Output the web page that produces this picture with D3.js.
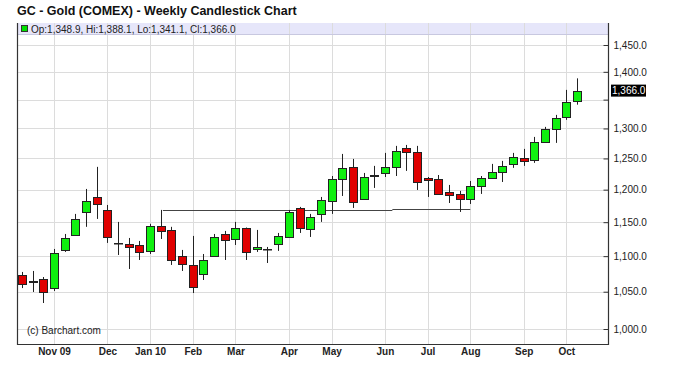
<!DOCTYPE html>
<html>
<head>
<meta charset="utf-8">
<script src="https://cdn.jsdelivr.net/npm/d3@7"></script>
<style>
  body { margin: 0; background: #fff; }
  svg { display: block; font-family: "Liberation Sans", Arial, sans-serif; }
</style>
</head>
<body>
<svg width="675" height="378"></svg>
<script>
// weekly bars, week of Oct 12 2009 .. week of Oct 11 2010
const opens = [1073.2, 1065.2, 1067.6, 1055.0, 1109.0, 1131.0, 1165.5, 1188.6, 1168.6, 1119.6,
  1117.7, 1116.2, 1107.6, 1144.5, 1138.4, 1100.2, 1087.4, 1074.6, 1100.2, 1132.4,
  1125.0, 1141.4, 1110.4, 1110.8, 1117.7, 1128.0, 1171.6, 1139.9, 1162.5, 1182.3,
  1216.9, 1236.3, 1185.5, 1222.7, 1226.5, 1236.3, 1267.3, 1260.7, 1218.5, 1216.9,
  1196.4, 1193.3, 1185.5, 1205.8, 1218.5, 1228.2, 1241.1, 1250.9, 1247.6, 1277.3,
  1299.3, 1319.8, 1348.9];
const highs = [1077.5, 1078.9, 1070.4, 1110.4, 1132.4, 1162.5, 1201.1, 1236.3, 1176.2, 1150.4,
  1126.5, 1122.1, 1147.5, 1168.6, 1143.0, 1109.0, 1129.5, 1103.1, 1132.4, 1136.9,
  1150.4, 1142.0, 1138.4, 1113.3, 1133.9, 1168.6, 1173.2, 1162.5, 1188.6, 1221.6,
  1257.4, 1249.2, 1226.5, 1237.9, 1259.1, 1270.7, 1272.3, 1270.7, 1220.0, 1223.2,
  1207.4, 1198.0, 1213.7, 1221.6, 1241.1, 1246.0, 1259.1, 1265.7, 1285.7, 1302.7,
  1323.3, 1367.3, 1388.1];
const lows = [1055.0, 1049.6, 1034.6, 1051.0, 1106.1, 1129.5, 1143.0, 1154.9, 1119.2, 1101.7,
  1081.7, 1094.5, 1103.1, 1125.0, 1087.4, 1078.9, 1048.2, 1066.2, 1098.8, 1094.5,
  1116.2, 1094.5, 1106.1, 1090.2, 1107.6, 1126.5, 1133.9, 1128.0, 1150.4, 1162.5,
  1190.1, 1171.6, 1183.9, 1202.7, 1220.0, 1221.6, 1229.8, 1199.5, 1188.6, 1191.7,
  1179.2, 1165.5, 1177.7, 1193.3, 1216.9, 1212.1, 1234.7, 1237.9, 1242.8, 1275.7,
  1275.7, 1314.7, 1341.1];
const closes = [1060.6, 1064.4, 1049.6, 1104.6, 1126.5, 1154.9, 1182.3, 1177.7, 1128.0, 1119.2,
  1113.3, 1106.1, 1144.5, 1136.9, 1094.5, 1088.8, 1056.4, 1094.5, 1128.0, 1123.6,
  1141.4, 1106.1, 1113.3, 1110.4, 1129.5, 1165.5, 1141.4, 1157.9, 1183.9, 1216.9,
  1234.7, 1180.8, 1220.0, 1223.7, 1236.3, 1262.4, 1260.7, 1212.1, 1215.3, 1193.3,
  1191.7, 1185.5, 1205.8, 1218.5, 1228.2, 1237.9, 1252.5, 1246.0, 1277.3, 1299.3,
  1318.1, 1345.9, 1366.0];

// first bar of each month
const monthLabels = ['Nov 09', 'Dec', 'Jan 10', 'Feb', 'Mar', 'Apr', 'May', 'Jun', 'Jul', 'Aug', 'Sep', 'Oct'];
const monthBars = [3, 8, 12, 16, 20, 25, 29, 34, 38, 42, 47, 51];

const priceTicks = [1000, 1050, 1100, 1150, 1200, 1250, 1300, 1350, 1400, 1450];

// drawn support line: start bar, end bar, level
const lineStart = [13.2, 34.7];
const lineEnd = [34.7, 42.0];
const lineLevel = [1168.0, 1170.5];

const svg = d3.select('svg');
const W = 675, H = 378;
const plot = { left: 17, right: 608, top: 23, bottom: 344 };

const x = d3.scaleLinear().domain([0, opens.length - 1]).range([22, 577]);
const y = d3.scaleLog().domain([1000, 1450]).range([329, 45]);
const fmt = d3.format(',.1f');

svg.append('rect').attr('width', W).attr('height', H).attr('fill', '#fff');

// title
svg.append('text')
  .attr('x', 17).attr('y', 15)
  .attr('font-size', 12.5).attr('font-weight', 'bold').attr('fill', '#111')
  .text('GC - Gold (COMEX) - Weekly Candlestick Chart');

// legend band
svg.append('rect')
  .attr('x', plot.left).attr('y', plot.top)
  .attr('width', plot.right - plot.left).attr('height', 11)
  .attr('fill', '#e6e6fa');

// grid
const grid = svg.append('g').attr('stroke', '#dcdcdc').attr('stroke-width', 1);
grid.selectAll('.hg').data(priceTicks).enter().append('line')
  .attr('x1', plot.left).attr('x2', plot.right)
  .attr('y1', d => Math.round(y(d)) + 0.5).attr('y2', d => Math.round(y(d)) + 0.5);
grid.selectAll('.vg').data(monthBars).enter().append('line')
  .attr('x1', d => Math.round(x(d)) + 0.5).attr('x2', d => Math.round(x(d)) + 0.5)
  .attr('y1', plot.top).attr('y2', plot.bottom);

svg.append('line')
  .attr('x1', plot.left).attr('x2', plot.right)
  .attr('y1', plot.top + 11.5).attr('y2', plot.top + 11.5)
  .attr('stroke', '#c8c8e0');

// legend content
svg.append('rect')
  .attr('x', 21.5).attr('y', 25.5).attr('width', 6).attr('height', 6)
  .attr('fill', '#00e000').attr('stroke', '#333');
svg.append('text')
  .attr('x', 31).attr('y', 32.5)
  .attr('font-size', 10).attr('fill', '#222')
  .text(`Op:${fmt(opens[opens.length - 1])}, Hi:${fmt(highs[highs.length - 1])}, Lo:${fmt(lows[lows.length - 1])}, Cl:${fmt(closes[closes.length - 1])}`);

// copyright
svg.append('text')
  .attr('x', 27).attr('y', 334)
  .attr('font-size', 10).attr('fill', '#222')
  .text('(c) Barchart.com');

// support line
svg.append('g').selectAll('line').data(lineLevel).enter().append('line')
  .attr('x1', (d, i) => x(lineStart[i])).attr('x2', (d, i) => x(lineEnd[i]))
  .attr('y1', d => Math.round(y(d)) + 0.5).attr('y2', d => Math.round(y(d)) + 0.5)
  .attr('stroke', '#444').attr('stroke-width', 1.2);

// candles
const bars = d3.range(opens.length);
const candles = svg.append('g');
candles.selectAll('.wick').data(bars).enter().append('line')
  .attr('x1', i => Math.round(x(i)) + 0.5).attr('x2', i => Math.round(x(i)) + 0.5)
  .attr('y1', i => y(highs[i])).attr('y2', i => y(lows[i]))
  .attr('stroke', '#222').attr('stroke-width', 1);
candles.selectAll('.body').data(bars).enter().append('rect')
  .attr('x', i => Math.round(x(i)) - 3.5)
  .attr('width', 8)
  .attr('y', i => Math.round(y(Math.max(opens[i], closes[i]))) + 0.5)
  .attr('height', i => Math.max(0.5, Math.round(Math.abs(y(opens[i]) - y(closes[i])))))
  .attr('fill', i => closes[i] >= opens[i] ? '#10f010' : '#e00000')
  .attr('stroke', '#222').attr('stroke-width', 1);

// frame
svg.append('path')
  .attr('d', `M${plot.left + 0.5},${plot.top}V${plot.bottom + 0.5}H${plot.right + 0.5}V${plot.top}`)
  .attr('fill', 'none').attr('stroke', '#333').attr('stroke-width', 1.2);

// right price axis
const yAxis = d3.axisRight(y)
  .tickValues(priceTicks)
  .tickFormat(fmt)
  .tickSizeInner(-5).tickSizeOuter(0).tickPadding(5);
const yG = svg.append('g')
  .attr('transform', `translate(${plot.right + 0.5},0)`)
  .call(yAxis);
yG.select('.domain').remove();
yG.selectAll('.tick line').attr('stroke', '#333');
yG.selectAll('.tick text')
  .attr('font-size', 10).attr('fill', '#222')
  .attr('font-family', '"Liberation Sans", Arial, sans-serif')
  .style('display', d => d === 1350 ? 'none' : null);

// last price marker
const lastY = y(closes[closes.length - 1]);
svg.append('rect')
  .attr('x', 611).attr('y', lastY - 6).attr('width', 35).attr('height', 12)
  .attr('fill', '#000');
svg.append('text')
  .attr('x', 612).attr('y', lastY + 3.5)
  .attr('font-size', 10).attr('fill', '#fff')
  .text(fmt(closes[closes.length - 1]));

// month axis
const xAxis = d3.axisBottom(x)
  .tickValues(monthBars)
  .tickFormat((d, i) => monthLabels[i])
  .tickSize(0).tickPadding(4);
const xG = svg.append('g')
  .attr('transform', `translate(0,${plot.bottom})`)
  .call(xAxis);
xG.select('.domain').remove();
xG.selectAll('.tick text')
  .attr('font-size', 10).attr('font-weight', 'bold').attr('fill', '#222')
  .attr('font-family', '"Liberation Sans Narrow", "Liberation Sans", Arial, sans-serif');
</script>
</body>
</html>
